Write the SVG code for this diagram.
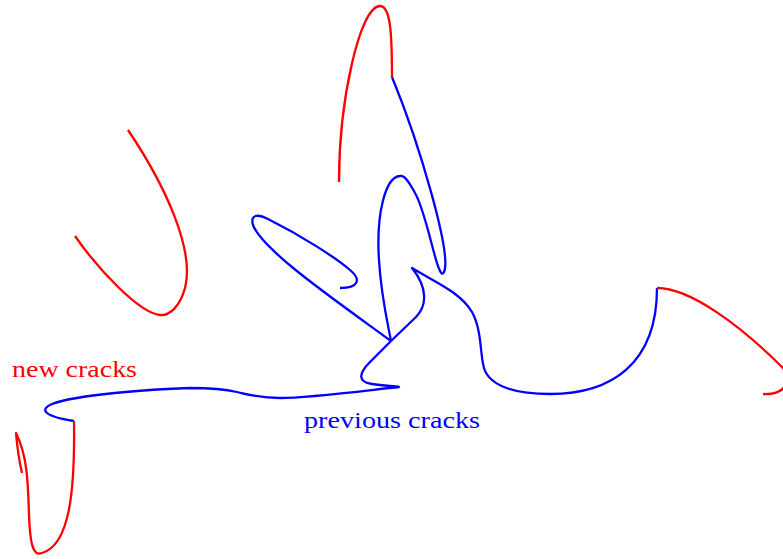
<svg xmlns="http://www.w3.org/2000/svg" width="783" height="559" viewBox="0 0 783 559">
<style>
.r{fill:none;stroke:#ff0000;stroke-width:2.3;stroke-linejoin:round}
.b{fill:none;stroke:#0000ff;stroke-width:2.3;stroke-linejoin:round}
.t{font-family:"Liberation Serif","DejaVu Serif",serif;font-size:24px}
</style>
<rect width="783" height="559" fill="#ffffff"/>
<g id="connectors">
<g id="previous-cracks">
<path class="b" d="M391,341 C335,300 262,250 253,225 C250,214 258,214 268,219 C300,235 335,257 350,270 C362,280 358,288 340,288"/>
<path class="b" d="M392,77 C420,145 452,255 444,272 C438,285 428,215 415,193 C408,180 404,175 400,176 C385,177 376,215 379,260 C381,295 387,320 391,341"/>
<path class="b" d="M391,341 L416,317 C427,306 428,288 412,268 C435,282 460,292 472,312 C482,330 480,355 484,368 C490,388 520,394 550,394 C610,394 657,365 657,288"/>
<path class="b" d="M391,341 L370,362 C358,374 358,382 372,384 C385,386 395,386 399,387 C370,390 310,398 280,398 C260,398 250,395 237,392 C220,388 205,388 190,388 C150,389 75,395 52,404 C40,409 42,416 74,421"/>
</g>
<g id="new-cracks">
<path class="r" d="M128,130 C165,185 195,250 185,288 C180,306 170,316 160,315 C140,313 100,272 75,236"/>
<path class="r" d="M339,182 C339,100 360,6 380,6 C390,6 392,30 392,77"/>
<path class="r" d="M657,288 C690,288 740,325 783,368 C790,380 788,395 763,394"/>
<path class="r" d="M74,421 C75,490 70,545 42,553 C32,557 30,540 29,515 C28,480 27,455 16,433 C17,445 19,460 22,473"/>
</g>
</g>
<g id="label-new">
<text class="t" x="12" y="377" fill="#ff0000" textLength="125" lengthAdjust="spacingAndGlyphs">new cracks</text>
</g>
<g id="label-previous">
<text class="t" x="304" y="428" fill="#0000ff" textLength="176" lengthAdjust="spacingAndGlyphs">previous cracks</text>
</g>
</svg>
